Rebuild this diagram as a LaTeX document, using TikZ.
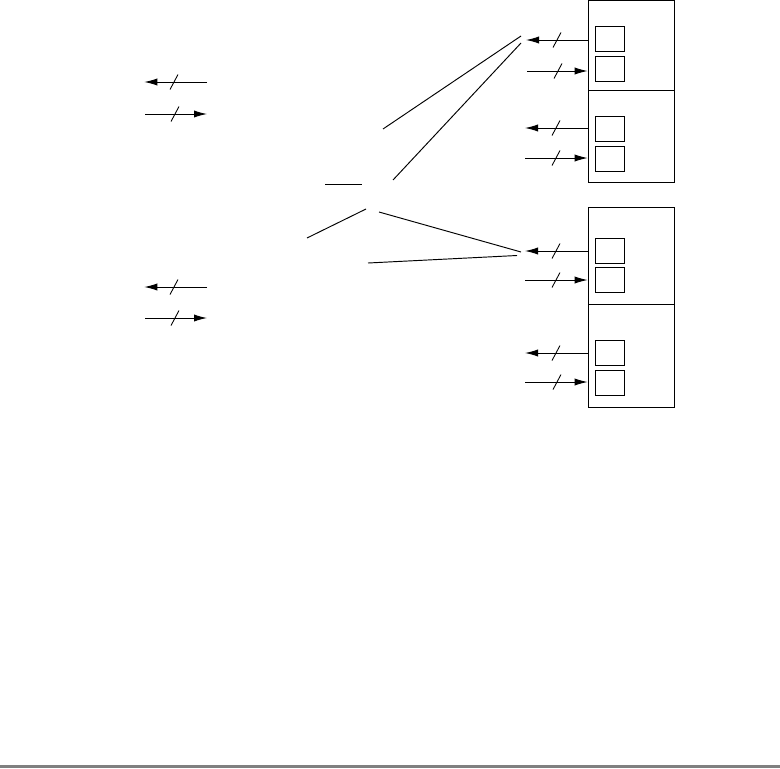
\documentclass[tikz,border=0pt]{standalone}
\usetikzlibrary{arrows.meta}
\begin{document}
\begin{tikzpicture}[line width=0.27pt, cell/.style={draw, minimum width=0.86cm, inner sep=0pt, anchor=north west}, reg/.style={draw, minimum width=0.29cm, minimum height=0.25cm, inner sep=0pt}, bus/.style={-{Latex[length=1.3mm,width=0.72mm]}}, slash/.style={line width=0.25pt}]
\useasboundingbox (0,0) rectangle (7.8,-7.68);
% outer boxes
\node[cell, minimum height=0.90cm] (cella) at (5.88,0) {};
\node[cell, minimum height=0.92cm] (cellb) at (5.88,-0.90) {};
\node[cell, minimum height=0.97cm] (cellc) at (5.88,-2.07) {};
\node[cell, minimum height=1.03cm] (celld) at (5.88,-3.04) {};
% registers, each with its bus in and out
\foreach \nm/\cell/\y/\ry/\xa/\sx/\sgn in {a/cella/0.40/0.39/5.26/5.57/1,b/cella/0.71/0.685/5.27/5.58/-1,c/cellb/1.28/1.285/5.25/5.56/1,d/cellb/1.58/1.585/5.25/5.56/-1,e/cellc/2.51/2.505/5.25/5.56/1,f/cellc/2.80/2.80/5.25/5.56/-1,g/celld/3.53/3.525/5.25/5.56/1,h/celld/3.82/3.825/5.25/5.57/-1}{
\node[reg] (reg\nm) at (6.095,-\ry) {};
\coordinate (free\nm) at (\xa,-\y);
\coordinate (tick\nm) at (\sx,-\y);
\ifnum\sgn=1
\draw[bus] (\cell.west |- free\nm) -- (free\nm);
\else
\draw[bus] (free\nm) -- ([xshift=-0.1pt]\cell.west |- free\nm);
\fi
\draw[slash] ([shift={(-0.04,-0.075)}]tick\nm) -- ([shift={(0.04,0.075)}]tick\nm);
}
% buses on the left
\foreach \nm/\y/\sx/\sgn in {p/0.82/1.74/1,q/1.14/1.75/-1,r/2.87/1.74/1,s/3.18/1.75/-1}{
\coordinate (lefta\nm) at (1.45,-\y);
\coordinate (leftb\nm) at (2.07,-\y);
\coordinate (tick\nm) at (\sx,-\y);
\ifnum\sgn=1
\draw[bus] (leftb\nm) -- ([xshift=-0.2pt]lefta\nm);
\else
\draw[bus] (lefta\nm) -- (leftb\nm);
\fi
\draw[slash] ([shift={(-0.04,-0.075)}]tick\nm) -- ([shift={(0.04,0.075)}]tick\nm);
}
% loose wires
\foreach \nm/\xa/\ya/\xb/\yb in {u/3.83/1.29/5.21/0.36,v/3.93/1.80/5.21/0.43,w/3.25/1.84/3.62/1.84,x/3.07/2.38/3.66/2.09,y/3.79/2.12/5.21/2.52,z/3.68/2.63/5.17/2.555}{
\coordinate (ea\nm) at (\xa,-\ya);
\coordinate (eb\nm) at (\xb,-\yb);
\draw (ea\nm) -- (eb\nm);
}
% rule at the foot
\coordinate (foota) at (0,-7.665);
\coordinate (footb) at (7.8,-7.665);
\draw[line width=0.85pt, gray] (foota) -- (footb);
\end{tikzpicture}
\end{document}
